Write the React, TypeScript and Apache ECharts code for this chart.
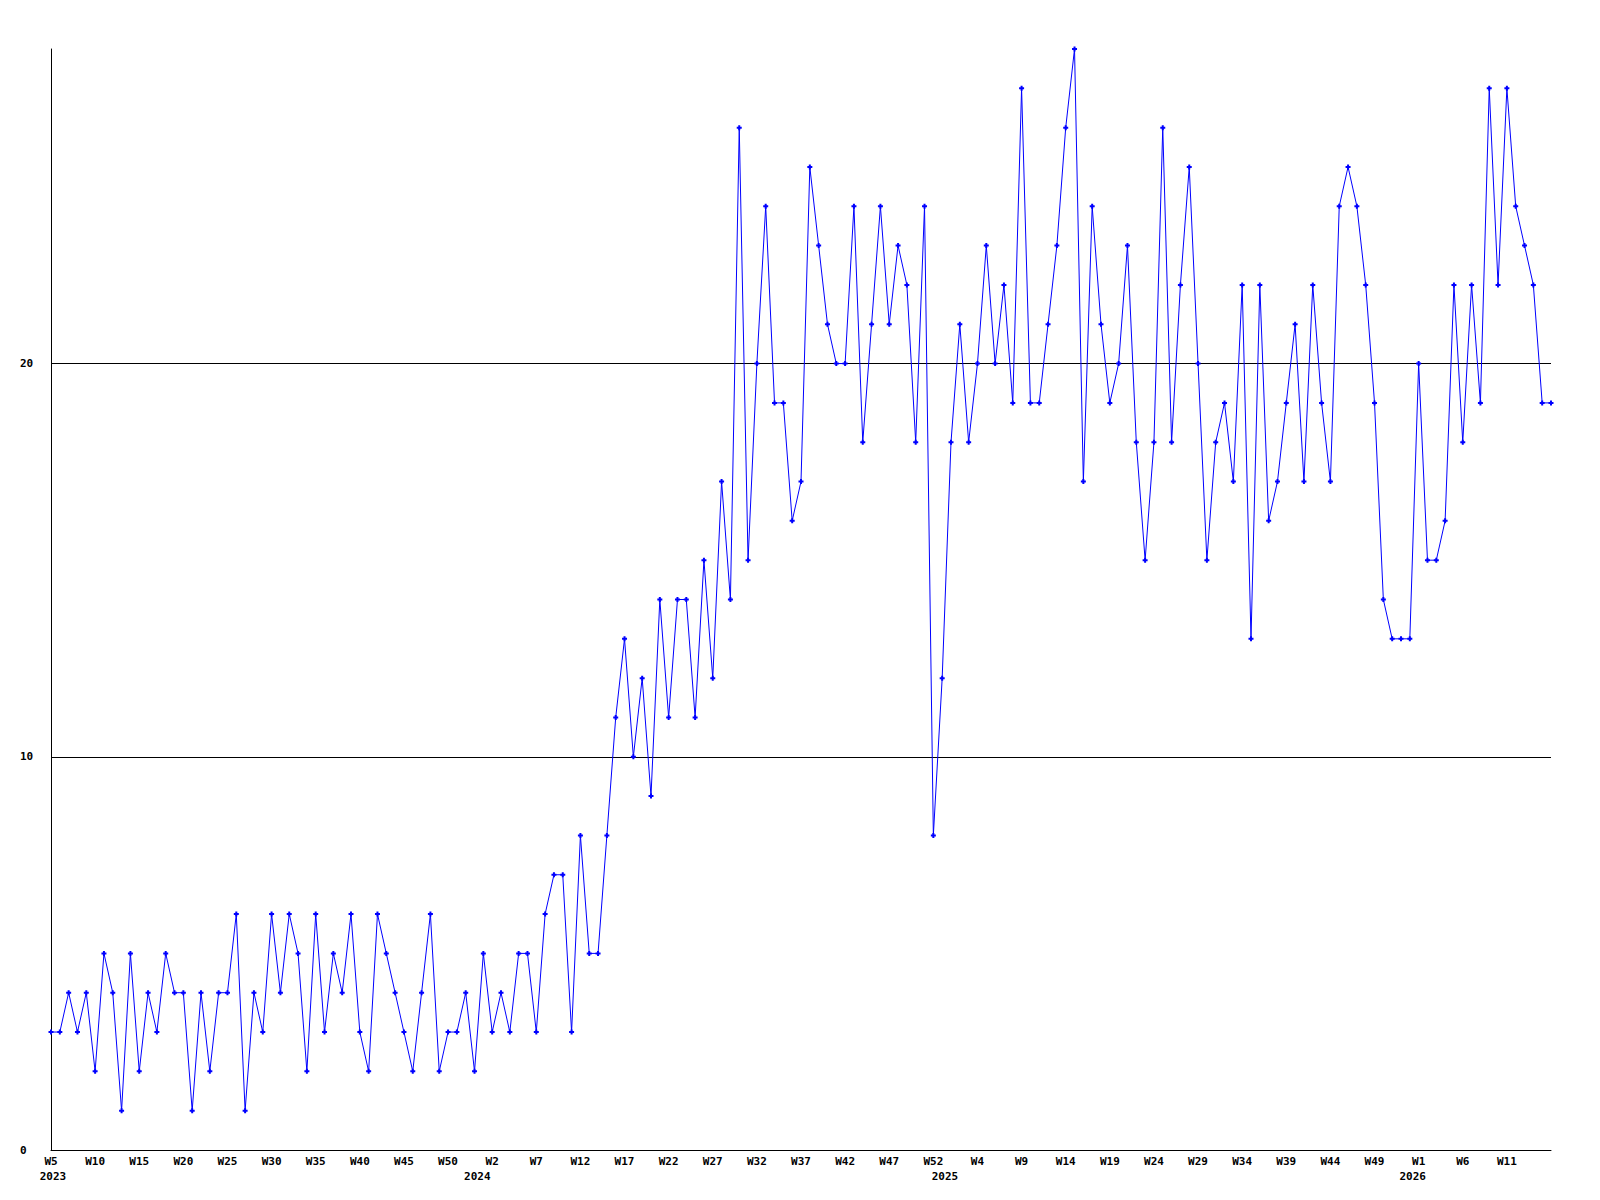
import React, { useEffect, useRef } from "react";
import * as echarts from "echarts";

// Weekly values
const years = [2023, 2024, 2025, 2026];
const firstWeeks = [5, 1, 1, 1];
const values2023 = [
  3, 3, 4, 3, 4, 2, 5, 4, 1, 5, 2, 4, 3, 5, 4, 4, 1, 4, 2, 4, 4, 6, 1, 4, 3,
  6, 4, 6, 5, 2, 6, 3, 5, 4, 6, 3, 2, 6, 5, 4, 3, 2, 4, 6, 2, 3, 3, 4, 2,
];
const values2024 = [
  5, 3, 4, 3, 5, 5, 3, 6, 7, 7, 3, 8, 5, 5, 8, 11, 13, 10, 12, 9, 14, 11, 14,
  14, 11, 15, 12, 17, 14, 26, 15, 20, 24, 19, 19, 16, 17, 25, 23, 21, 20, 20,
  24, 18, 21, 24, 21, 23, 22, 18, 24, 8, 12,
];
const values2025 = [
  18, 21, 18, 20, 23, 20, 22, 19, 27, 19, 19, 21, 23, 26, 28, 17, 24, 21, 19,
  20, 23, 18, 15, 18, 26, 18, 22, 25, 20, 15, 18, 19, 17, 22, 13, 22, 16, 17,
  19, 21, 17, 22, 19, 17, 24, 25, 24, 22, 19, 14, 13, 13, 13,
];
const values2026 = [20, 15, 15, 16, 22, 18, 22, 19, 27, 22, 27, 24, 23, 22, 19, 19];
const yearValues = [values2023, values2024, values2025, values2026];

const yMin = 0;
const yMax = 28;
const yInterval = 10;
const labelEvery = 5;

const categories: string[] = [];
const seriesData: number[] = [];
yearValues.forEach((vals, yi) => {
  vals.forEach((v, i) => {
    categories.push(`${years[yi]}|W${firstWeeks[yi] + i}`);
    seriesData.push(v);
  });
});

const FONT = "DejaVu Sans Mono";

export default function App() {
  const ref = useRef<HTMLDivElement>(null);
  useEffect(() => {
    if (!ref.current) return;
    const chart = echarts.init(ref.current, undefined, { renderer: "svg" });
    chart.setOption({
      animation: false,
      backgroundColor: "#ffffff",
      grid: { left: 51, right: 49, top: 49, bottom: 50, containLabel: false },
      xAxis: [
        {
          type: "category",
          data: categories,
          boundaryGap: false,
          axisLine: { show: true, lineStyle: { color: "#000", width: 1 } },
          axisTick: { show: false },
          splitLine: { show: false },
          axisLabel: {
            interval: (i: number) => i % labelEvery === 0 && i < categories.length - 1,
            margin: 6,
            color: "#000",
            fontFamily: FONT,
            fontWeight: "bold",
            fontSize: 11,
            formatter: (v: string) => v.split("|")[1],
          },
        },
        {
          type: "category",
          data: categories,
          position: "bottom",
          boundaryGap: false,
          axisLine: { show: false },
          axisTick: { show: false },
          splitLine: { show: false },
          axisLabel: {
            interval: (i: number, v: string) => i === 0 || v.endsWith("|W1"),
            margin: 21,
            color: "#000",
            fontFamily: FONT,
            fontWeight: "bold",
            fontSize: 11,
            formatter: (v: string, i: number) =>
              i === 0 ? `{a|${v.split("|")[0]}}` : `{b|${v.split("|")[0]}}`,
            rich: {
              a: { padding: [0, 0, 0, 4], color: "#000", fontFamily: FONT, fontWeight: "bold", fontSize: 11 },
              b: { padding: [0, 12, 0, 0], color: "#000", fontFamily: FONT, fontWeight: "bold", fontSize: 11 },
            },
          },
        },
      ],
      yAxis: {
        type: "value",
        min: yMin,
        max: yMax,
        interval: yInterval,
        axisLine: { show: true, lineStyle: { color: "#000", width: 1 } },
        axisTick: { show: false },
        splitLine: {
          show: true,
          showMaxLine: false,
          lineStyle: { color: ["#000", "#000", "#000", "rgba(0,0,0,0)"], width: 1 },
        },
        axisLabel: {
          align: "left",
          margin: 31,
          showMaxLabel: false,
          color: "#000",
          fontFamily: FONT,
          fontWeight: "bold",
          fontSize: 11,
          formatter: (v: number) => (v % yInterval === 0 ? String(v) : ""),
        },
      },
      series: [
        {
          type: "line",
          data: seriesData,
          xAxisIndex: 0,
          symbol: "path://M1.5,0H3.5V1.5H5V3.5H3.5V5H1.5V3.5H0V1.5H1.5Z",
          symbolSize: 5,
          showAllSymbol: true,
          itemStyle: { color: "#0000ff" },
          lineStyle: { color: "#0000ff", width: 1 },
        },
      ],
    });
    return () => chart.dispose();
  }, []);
  return (
    <div
      ref={ref}
      style={{ position: "fixed", left: 0, top: 0, width: 1600, height: 1200, background: "#fff" }}
    />
  );
}
